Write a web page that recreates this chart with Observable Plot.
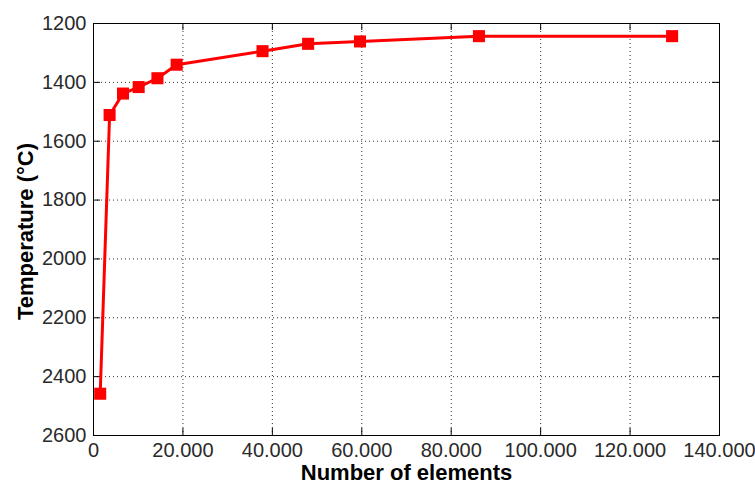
<!DOCTYPE html>
<html>
<head>
<meta charset="utf-8">
<script src="https://cdn.jsdelivr.net/npm/d3@7"></script>
<script src="https://cdn.jsdelivr.net/npm/@observablehq/plot@0.6"></script>
<style>
  html, body { margin: 0; padding: 0; background: #fff; }
</style>
</head>
<body>
<div id="chart"></div>
<script>
// Mesh refinement study: peak temperature versus number of elements
const elements    = [1500, 3600, 6600, 10100, 14300, 18600, 37800, 48000, 59600, 86200, 129400];
const temperature = [2458, 1511, 1438, 1416, 1386, 1340, 1294, 1269, 1261, 1243, 1243];

const xTicks = [0, 20000, 40000, 60000, 80000, 100000, 120000, 140000];
const yTicks = [1200, 1400, 1600, 1800, 2000, 2200, 2400, 2600];

const xTitle = "Number of elements";
const yTitle = "Temperature (°C)";

const rows = elements.map((n, i) => ({n, t: temperature[i]}));

// thousands written with a dot, e.g. 20.000
const fmt = d3.formatLocale({decimal: ",", thousands: ".", grouping: [3], currency: ["", ""]}).format(",");

const W = 755, H = 484;
const mL = 93, mR = 36, mT = 23, mB = 49;
const fw = W - mL - mR, fh = H - mT - mB;
const tickLen = 7;

const chart = Plot.plot({
  width: W,
  height: H,
  marginLeft: mL,
  marginRight: mR,
  marginTop: mT,
  marginBottom: mB,
  style: {fontFamily: "'Liberation Sans', Arial, Helvetica, sans-serif", fontSize: "20px", color: "#2a2a2a", background: "#fff"},
  x: {domain: [0, 140000]},
  y: {domain: [1200, 2600], reverse: true},
  marks: [
    // dotted grid
    Plot.ruleX(xTicks.slice(1, -1), {stroke: "#333", strokeDasharray: "1,3", strokeWidth: 1}),
    Plot.ruleY(yTicks.slice(1, -1), {stroke: "#333", strokeDasharray: "1,3", strokeWidth: 1}),
    // inward ticks on all four sides
    Plot.tickX(xTicks, {x: d => d, insetTop: fh - tickLen, stroke: "#000"}),
    Plot.tickX(xTicks, {x: d => d, insetBottom: fh - tickLen, stroke: "#000"}),
    Plot.tickY(yTicks, {y: d => d, insetRight: fw - tickLen, stroke: "#000"}),
    Plot.tickY(yTicks, {y: d => d, insetLeft: fw - tickLen, stroke: "#000"}),
    Plot.frame({stroke: "#000", strokeWidth: 1}),
    // tick labels
    Plot.axisX({ticks: xTicks, tickSize: 0, tickPadding: 7, tickFormat: fmt, label: null, fontSize: 20}),
    Plot.axisY({ticks: yTicks, tickSize: 0, tickPadding: 7, tickFormat: d => String(d), label: null, fontSize: 20}),
    // series
    Plot.line(rows, {x: "n", y: "t", stroke: "#ff0000", strokeWidth: 3}),
    Plot.dot(rows, {x: "n", y: "t", symbol: "square", r: 6.8, fill: "#ff0000", stroke: "none"}),
    // axis titles
    Plot.text([xTitle], {text: d => d, frameAnchor: "bottom", textAnchor: "middle", dy: 44, lineAnchor: "bottom", fontSize: 22, fontWeight: "bold", fill: "#000"}),
    Plot.text([yTitle], {text: d => d, frameAnchor: "left", textAnchor: "middle", rotate: -90, dx: -61, dy: 2, lineAnchor: "bottom", fontSize: 22, fontWeight: "bold", fill: "#000"})
  ]
});

document.getElementById("chart").appendChild(chart);
</script>
</body>
</html>
